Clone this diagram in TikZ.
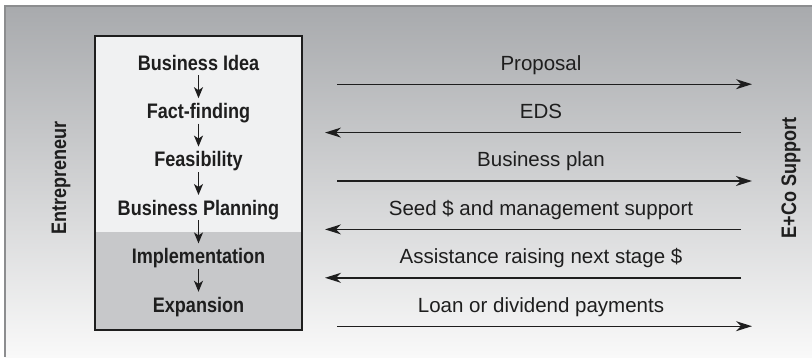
\documentclass[tikz,border=0pt]{standalone}
\usepackage{fontspec}
\setmainfont{Liberation Sans}
\newfontfamily\stagefont[FakeStretch=0.86]{Liberation Sans}
\usepackage{tikz}
\usetikzlibrary{positioning,arrows.meta}
\definecolor{panelgray}{RGB}{168,170,173}
\definecolor{panelwhite}{RGB}{249,249,249}
\definecolor{framegray}{RGB}{140,141,143}
\definecolor{earlyfill}{RGB}{240,241,242}
\definecolor{latefill}{RGB}{199,200,202}
\definecolor{ink}{RGB}{30,30,30}

\begin{document}
\begin{tikzpicture}[
  x=1pt, y=-1pt,
  node distance=30pt,
  stage/.style={font=\stagefont\bfseries\fontsize{21}{24}\selectfont, text=ink, inner sep=0pt, text height=14pt, text depth=4pt},
  side/.style={font=\stagefont\bfseries\fontsize{21}{24}\selectfont, text=ink, inner sep=0pt, rotate=90},
  msg/.style={font=\fontsize{20.5}{24}\selectfont, text=ink, inner sep=0pt, text height=15pt, text depth=14pt},
  step arrow/.style={-{Stealth[length=11pt,width=9pt,inset=3pt]}, line width=1.5pt, ink, shorten >=6pt, shorten <=1pt},
  flow/.style={-{Stealth[length=16pt,width=10pt,inset=5pt]}, line width=1.4pt, ink}
]
  \useasboundingbox (0,0) rectangle (812,357);

  % Panel
  \shade[top color=panelgray, bottom color=panelwhite] (5,6) rectangle (812,357);
  \draw[framegray, line width=2pt] (5,357) -- (5,6) -- (812,6);

  % Stage box
  \fill[earlyfill] (95,36) rectangle (302,232);
  \fill[latefill] (95,232) rectangle (302,330);
  \draw[ink, line width=1.4pt] (95,36) rectangle (302,330);

  % Stages
  \node[stage, anchor=base] (idea) at (198.5,70) {Business Idea};
  \node[stage, below=of idea] (fact) {Fact-finding};
  \node[stage, below=of fact] (feas) {Feasibility};
  \node[stage, below=of feas] (plan) {Business Planning};
  \node[stage, below=of plan] (impl) {Implementation};
  \node[stage, below=of impl] (expa) {Expansion};

  \draw[step arrow] (idea) -- (fact);
  \draw[step arrow] (fact) -- (feas);
  \draw[step arrow] (feas) -- (plan);
  \draw[step arrow] (plan) -- (impl);
  \draw[step arrow] (impl) -- (expa);

  % Parties
  \node[side] (entre) at (61,178) {Entrepreneur};
  \node[side] (eco) at (791,178) {E+Co Support};

  % Columns for the messages
  \coordinate (msgcol) at (541,0);
  \coordinate (sendL) at (337,0);
  \coordinate (sendR) at (752,0);
  \coordinate (backR) at (741,0);
  \coordinate (backL) at (325,0);

  % Messages
  \node[msg, anchor=base] (proposal) at (idea.base -| msgcol) {Proposal};
  \node[msg, anchor=base] (eds) at (fact.base -| msgcol) {EDS};
  \node[msg, anchor=base] (bplan) at (feas.base -| msgcol) {Business plan};
  \node[msg, anchor=base] (seed) at (plan.base -| msgcol) {Seed \$ and management support};
  \node[msg, anchor=base] (assist) at (impl.base -| msgcol) {Assistance raising next stage \$};
  \node[msg, anchor=base] (loan) at (expa.base -| msgcol) {Loan or dividend payments};

  \draw[flow] (proposal.south -| sendL) -- (proposal.south -| sendR);
  \draw[flow] (eds.south -| backR) -- (eds.south -| backL);
  \draw[flow] (bplan.south -| sendL) -- (bplan.south -| sendR);
  \draw[flow] (seed.south -| backR) -- (seed.south -| backL);
  \draw[flow] (assist.south -| backR) -- (assist.south -| backL);
  \draw[flow] (loan.south -| sendL) -- (loan.south -| sendR);
\end{tikzpicture}
\end{document}
